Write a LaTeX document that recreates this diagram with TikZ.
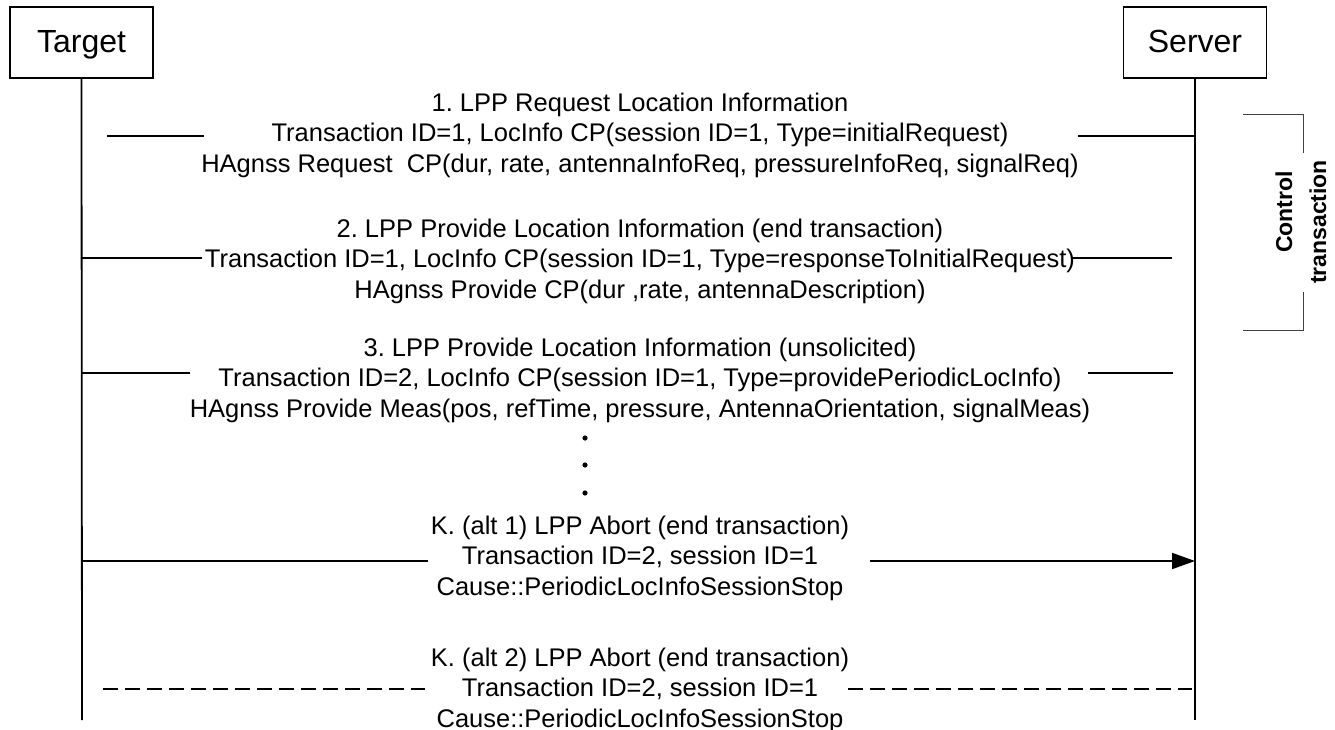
\documentclass[tikz,border=0pt]{standalone}
\usepackage{fontspec}
\setmainfont{Liberation Sans}
\usetikzlibrary{arrows.meta}
\frenchspacing
\begin{document}
\begin{tikzpicture}[x=1pt,y=-1pt,
  ent/.style={draw,line width=1.8pt,minimum width=143pt,minimum height=71pt,inner sep=0pt,text height=20pt,text depth=0pt,font=\fontsize{32}{38}\selectfont},
  life/.style={line width=1.8pt},
  msg/.style={line width=1.8pt},
  msgtxt/.style={align=center,inner sep=0pt,font=\fontsize{25.5}{30.5}\selectfont},
  brk/.style={line width=1pt,black!75},
  brktxt/.style={rotate=90,inner sep=0pt,font=\fontsize{23}{27}\bfseries\selectfont}]
\useasboundingbox (0,0) rectangle (1335,730);
\node[ent] (target) at (81.5,42.5) {Target};
\node[ent] (server) at (1195,42.5) {Server};
\coordinate (tend) at (82,720);
\coordinate (send) at (1195,720);
\draw[life] (target.south) -- (tend);
\draw[life] (server.south) -- (send);
% message 1
\node[msgtxt] (m1) at (640,135) {1. LPP Request Location Information\\Transaction ID=1, LocInfo CP(session ID=1, Type=initialRequest)\\HAgnss Request~~CP(dur, rate, antennaInfoReq, pressureInfoReq, signalReq)};
\coordinate (m1a) at (107,136); \coordinate (m1b) at (204,136);
\coordinate (m1c) at (1078,136); \coordinate (m1d) at (1195,136);
\draw[msg] (m1a) -- (m1b);
\draw[msg] (m1c) -- (m1d);
% message 2
\node[msgtxt] (m2) at (640,261) {2. LPP Provide Location Information (end transaction)\\Transaction ID=1, LocInfo CP(session ID=1, Type=responseToInitialRequest)\\HAgnss Provide CP(dur ,rate, antennaDescription)};
\coordinate (m2a) at (82,258); \coordinate (m2b) at (202,258);
\coordinate (m2c) at (1072,258); \coordinate (m2d) at (1172,258);
\draw[msg] (m2a) -- (m2b);
\draw[msg] (m2c) -- (m2d);
% message 3
\node[msgtxt] (m3) at (640,380) {3. LPP Provide Location Information (unsolicited)\\Transaction ID=2, LocInfo CP(session ID=1, Type=providePeriodicLocInfo)\\HAgnss Provide Meas(pos, refTime, pressure, AntennaOrientation, signalMeas)};
\coordinate (m3a) at (82,373); \coordinate (m3b) at (190,373);
\coordinate (m3c) at (1088,373); \coordinate (m3d) at (1173,373);
\draw[msg] (m3a) -- (m3b);
\draw[msg] (m3c) -- (m3d);
% dots
\fill (585,438) circle (2.6) (585,465) circle (2.6) (585,493) circle (2.6);
% K alt 1
\node[msgtxt] (k1) at (640,558) {K. (alt 1) LPP Abort (end transaction)\\Transaction ID=2, session ID=1\\Cause::PeriodicLocInfoSessionStop};
\coordinate (k1a) at (82,561); \coordinate (k1b) at (428,561);
\coordinate (k1c) at (870,561); \coordinate (k1d) at (1195,561);
\draw[msg] (k1a) -- (k1b);
\draw[msg,-{Triangle[length=23pt,width=16pt]}] (k1c) -- (k1d);
% K alt 2
\node[msgtxt] (k2) at (640,690) {K. (alt 2) LPP Abort (end transaction)\\Transaction ID=2, session ID=1\\Cause::PeriodicLocInfoSessionStop};
\coordinate (k2a) at (103,689); \coordinate (k2b) at (425,689);
\coordinate (k2c) at (848,689); \coordinate (k2d) at (1192,689);
\draw[msg,dash pattern=on 15pt off 7pt] (k2a) -- (k2b);
\draw[msg,dash pattern=on 15pt off 7pt] (k2c) -- (k2d);
% bracket
\coordinate (b1) at (1243,115); \coordinate (b2) at (1303,115); \coordinate (b3) at (1303,153);
\coordinate (b4) at (1303,292); \coordinate (b5) at (1303,330); \coordinate (b6) at (1243,330);
\draw[brk] (b1) -- (b2) -- (b3);
\draw[brk] (b4) -- (b5) -- (b6);
\node[brktxt] (bc) at (1284,212) {Control};
\node[brktxt] (bt) at (1318,222) {transaction};
\end{tikzpicture}
\end{document}
